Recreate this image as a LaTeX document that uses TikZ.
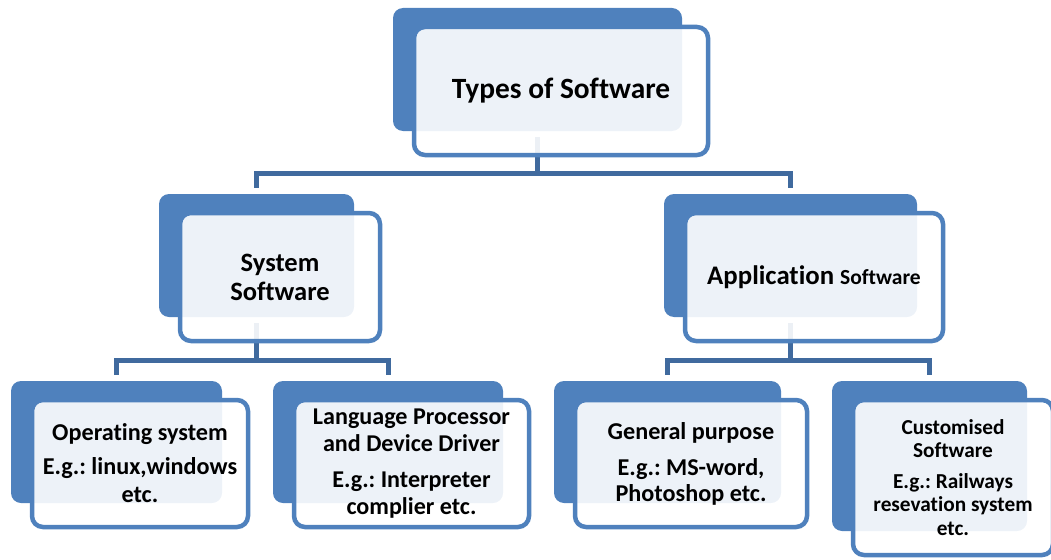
\documentclass[tikz,border=0pt]{standalone}
\usepackage{fontspec}
\setmainfont[Ligatures=NoCommon]{Carlito}
\frenchspacing
\usetikzlibrary{calc}
\pgfdeclarelayer{back}
\pgfdeclarelayer{mid}
\pgfsetlayers{back,mid,main}
\definecolor{boxblue}{RGB}{79,129,189}
\definecolor{linkblue}{RGB}{64,106,158}

\tikzset{
  backbox/.style={fill=boxblue, rounded corners=10pt, inner sep=0pt},
  frontbox/.style={draw=boxblue, line width=4.5pt, fill=white, fill opacity=0.9,
    draw opacity=1, text opacity=1, rounded corners=11pt, inner sep=0pt,
    align=center, text=black},
  link/.style={draw=linkblue, line width=5pt, line join=miter},
}

% #1 name, #2,#3 centre of the filled tab, #4 width, #5 height,
% #6 font size, #7 baseline skip, #8 text
\newcommand\swbox[8]{%
  \begin{pgfonlayer}{back}
    \node[backbox, minimum width=#4, minimum height=#5] (#1b) at (#2,#3) {};
  \end{pgfonlayer}
  \node[frontbox, minimum width=#4+5, minimum height=#5+5,
        font=\fontsize{#6}{#7}\selectfont\bfseries]
        (#1) at ($(#2,#3)+(23.5,21.5)$) {#8};
}

\begin{document}
\begin{tikzpicture}[x=1pt, y=-1pt]
  \useasboundingbox (0,0) rectangle (1051,559);
  \clip (0,0) rectangle (1051,559);

  % root
  \swbox{top}{537.5}{69.5}{289}{123}{29.4}{32}{Types of Software}

  % second level
  \swbox{sys}{256.5}{255.5}{195}{123}{26.5}{29}{System\\Software}
  \swbox{app}{790.5}{255.5}{253}{123}{26.8}{29}%
    {Application {\fontsize{21.5}{24}\selectfont Software}}

  % third level
  \swbox{os}{116.5}{442}{211}{122}{24.2}{28}%
    {Operating system\\[6pt]E.g.: linux,windows\\etc.}
  \swbox{lang}{388}{442}{230}{122}{24.1}{26.5}%
    {Language Processor\\and Device Driver\\[10pt]E.g.: Interpreter\\complier etc.}
  \swbox{gen}{667.5}{442}{227}{122}{24.2}{25.5}%
    {General purpose\\[11pt]E.g.: MS-word,\\Photoshop etc.}
  \swbox{cust}{929.5}{456}{195}{150}{21.3}{23.5}%
    {Customised\\Software\\[7pt]E.g.: Railways\\resevation system\\etc.}

  % connectors
  \begin{pgfonlayer}{mid}
    \draw[link] ($(topb.south)+(0,6)$) -- ++(0,36) coordinate (j0);
    \draw[link] (j0) -| ($(sysb.north)+(0,-6)$);
    \draw[link] (j0) -| ($(appb.north)+(0,-6)$);

    \draw[link] ($(sysb.south)+(0,6)$) -- ++(0,37) coordinate (j1);
    \draw[link] (j1) -| ($(osb.north)+(0,-6)$);
    \draw[link] (j1) -| ($(langb.north)+(0,-6)$);

    \draw[link] ($(appb.south)+(0,6)$) -- ++(0,37) coordinate (j2);
    \draw[link] (j2) -| ($(genb.north)+(0,-6)$);
    \draw[link] (j2) -| ($(custb.north)+(0,-6)$);
  \end{pgfonlayer}
\end{tikzpicture}
\end{document}
